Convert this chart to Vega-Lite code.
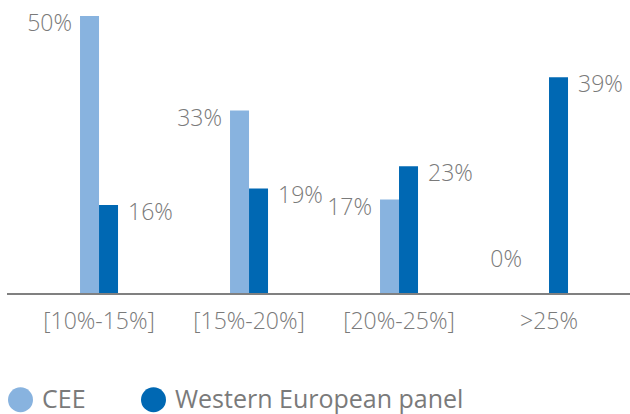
{
  "$schema": "https://vega.github.io/schema/vega-lite/v6.json",
  "autosize": "none",
  "width": 623,
  "height": 294,
  "padding": {"left": 7, "top": 0, "right": 0, "bottom": 120},
  "background": "white",
  "config": {"view": {"stroke": null}, "font": "Open Sans"},
  "data": {"values": [
    {"band": "[10%-15%]", "series": "CEE", "value": 50},
    {"band": "[10%-15%]", "series": "Western European panel", "value": 16},
    {"band": "[15%-20%]", "series": "CEE", "value": 33},
    {"band": "[15%-20%]", "series": "Western European panel", "value": 19},
    {"band": "[20%-25%]", "series": "CEE", "value": 17},
    {"band": "[20%-25%]", "series": "Western European panel", "value": 23},
    {"band": ">25%", "series": "CEE", "value": 0},
    {"band": ">25%", "series": "Western European panel", "value": 39}
  ]},
  "transform": [{"calculate": "datum.value + '%'", "as": "label"}],
  "encoding": {
    "x": {"field": "band", "type": "nominal", "sort": null,
      "scale": {"paddingInner": 0, "paddingOuter": 0.0767, "align": 0.74},
      "axis": {"title": null, "domain": false, "ticks": false, "labelAngle": 0,
        "labelPadding": 16, "labelFontSize": 23, "labelColor": "#7a7a7a", "labelFont": "Open Sans", "labelFontWeight": 300}},
    "xOffset": {"field": "series", "type": "nominal", "scale": {"domain": ["CEE", "Western European panel"], "range": [56, 94], "paddingInner": 0, "paddingOuter": 0}}
  },
  "layer": [
    {
      "mark": {"type": "bar"},
      "encoding": {
        "y": {"field": "value", "type": "quantitative", "scale": {"domain": [0, 52.9], "nice": false}, "axis": null},
        "color": {"field": "series", "type": "nominal",
          "scale": {"domain": ["CEE", "Western European panel"], "range": ["#88b3df", "#0068b3"]},
          "legend": {"orient": "none", "legendX": 1, "legendY": 387, "direction": "horizontal", "title": null,
            "symbolType": "circle", "symbolSize": 625, "symbolStrokeWidth": 0, "symbolOpacity": 1, "labelLimit": 0,
            "labelFontSize": 25, "labelColor": "#7a7a7a", "labelFont": "Open Sans", "labelOffset": 9, "columnPadding": 55}}
      }
    },
    {
      "mark": {"type": "rule", "color": "#808080", "strokeWidth": 1.5},
      "encoding": {"x": {"value": 0}, "x2": {"value": 623}, "y": {"datum": 0, "type": "quantitative"}, "xOffset": null}
    },
    {
      "transform": [{"filter": "datum.series === 'CEE'"}, {"calculate": "max(datum.value, 7.5)", "as": "labelY"}],
      "mark": {"type": "text", "align": "right", "baseline": "middle", "dx": -17.5, "dy": 8, "fontSize": 23, "fontWeight": 300, "color": "#7a7a7a"},
      "encoding": {
        "y": {"field": "labelY", "type": "quantitative"},
        "text": {"field": "label", "type": "nominal"},
        "xOffset": {"field": "series", "type": "nominal"}
      }
    },
    {
      "transform": [{"filter": "datum.series !== 'CEE'"}],
      "mark": {"type": "text", "align": "left", "baseline": "middle", "dx": 19.5, "dy": 8, "fontSize": 23, "fontWeight": 300, "color": "#7a7a7a"},
      "encoding": {
        "y": {"field": "value", "type": "quantitative"},
        "text": {"field": "label", "type": "nominal"},
        "xOffset": {"field": "series", "type": "nominal"}
      }
    }
  ]
}
